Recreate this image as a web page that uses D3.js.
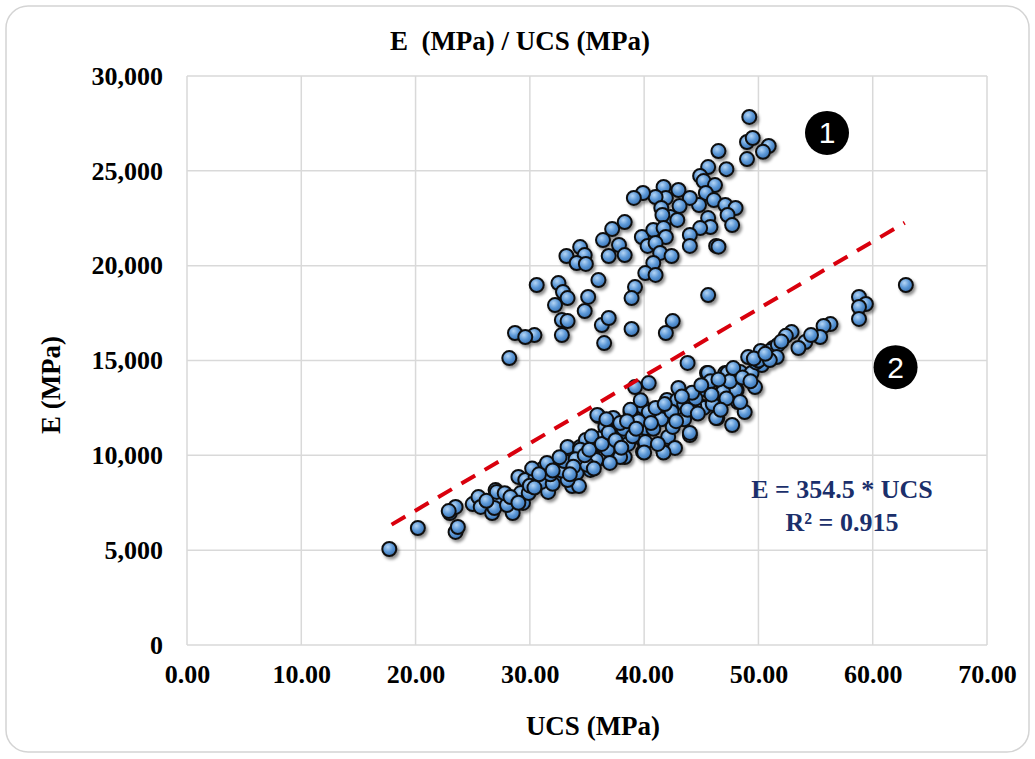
<!DOCTYPE html>
<html>
<head>
<meta charset="utf-8">
<script src="https://cdn.jsdelivr.net/npm/d3@7"></script>
<style>
  body { margin: 0; background: #fff; }
  svg { display: block; }
  text { font-family: "Liberation Serif", "Times New Roman", serif; font-weight: bold; }
</style>
</head>
<body>
<svg width="1035" height="759"></svg>
<script>
// upper cluster (1)
var group1 = [[49.2,27840],[49.0,26520],[49.5,26730],[50.9,26310],[50.4,26000],[49.0,25620],[46.5,26040],[45.6,25200],[47.2,25090],[44.9,24730],[45.2,24460],[46.2,24250],[45.4,23830],[46.1,23460],[47.1,23200],[48.0,23040],[44.8,23200],[44.0,23570],[43.0,23990],[43.1,23140],[41.7,24150],[41.9,23570],[41.0,23620],[39.9,23830],[39.1,23570],[41.5,23040],[42.3,22560],[42.9,22410],[41.6,22670],[47.3,22670],[47.7,22140],[45.6,22510],[45.8,22040],[44.9,21980],[44.0,21620],[44.0,21040],[46.3,21040],[46.5,21000],[38.3,22300],[37.2,21930],[36.4,21350],[37.8,21090],[38.3,20560],[36.9,20510],[39.8,21510],[40.8,21880],[41.7,21980],[41.9,21510],[40.3,21040],[41.0,21190],[41.4,20670],[42.4,20510],[40.8,20140],[40.1,19610],[41.0,19510],[34.4,20980],[33.2,20510],[34.8,20560],[34.1,20140],[34.9,20090],[36.0,19240],[32.5,19080],[30.6,18980],[32.9,18610],[33.3,18290],[32.2,17920],[35.1,18350],[34.8,17610],[39.2,18870],[38.9,18290],[32.8,17130],[33.3,17080],[32.8,16340],[30.4,16340],[36.3,16870],[36.9,17240],[36.5,15920],[38.9,16660],[42.5,17080],[41.9,16450],[45.6,18450],[43.8,14870],[28.7,16450],[29.6,16240],[28.2,15130]];

// lower cluster (2)
var group2 = [[17.7,5060],[20.2,6170],[23.0,6960],[23.5,7280],[23.5,5960],[23.7,6220],[22.9,7060],[25.0,7430],[25.5,7800],[25.7,7280],[26.7,6960],[27.0,8170],[27.3,7640],[26.9,7220],[27.1,8070],[28.5,6960],[28.0,7380],[29.0,8860],[29.6,8700],[29.2,8010],[29.4,7490],[29.9,8010],[30.5,8860],[31.2,9330],[31.6,8070],[32.4,9490],[32.3,8910],[33.3,10440],[34.4,10440],[34.6,9700],[34.1,9070],[33.7,8380],[34.3,8380],[33.3,8700],[35.3,9230],[35.9,10540],[36.0,12070],[36.4,9860],[37.3,11970],[37.2,11070],[37.7,10440],[38.3,9910],[38.2,11230],[39.0,11600],[39.4,12130],[39.2,13600],[40.4,13810],[39.9,12550],[39.9,10810],[39.9,10180],[40.5,12230],[40.1,11440],[41.6,11970],[41.7,10180],[42.1,10970],[42.0,12920],[43.0,12230],[42.9,12920],[42.7,10390],[43.0,13550],[44.0,12920],[44.0,11070],[44.9,13440],[45.2,12550],[45.5,14340],[46.4,11970],[46.9,13440],[47.1,14340],[47.7,11600],[48.1,13440],[48.2,12810],[48.2,14390],[48.8,12280],[49.1,15180],[45.6,14340],[47.3,14340],[48.4,14390],[49.4,14340],[50.3,14760],[50.8,15290],[51.3,15660],[49.8,14900],[48.0,13440],[46.9,13340],[45.2,12500],[48.4,12810],[49.7,13600],[46.3,11970],[44.4,12550],[41.5,11900],[40.4,12280],[38.8,12280],[35.9,12130],[38.2,11400],[40.1,10700],[44.0,11180],[41.7,10150],[40.0,10150],[35.6,10540],[35.8,9750],[37.9,9910],[34.9,10810],[34.4,10300],[31.0,8600],[32.0,8500],[32.8,9200],[33.0,9700],[35.0,9500],[36.8,10300],[36.2,10900],[38.6,10600],[39.0,11000],[39.5,11800],[41.0,12500],[42.5,11500],[43.5,12700],[43.5,11900],[44.5,13000],[46.0,12700],[45.8,13900],[47.5,13900],[30.2,9300],[31.8,9000],[36.6,11500],[34.0,9800],[35.4,11000],[37.9,11700],[38.8,12400],[40.8,11400],[42.4,12300],[44.2,13300],[46.5,14000],[47.2,13000],[26.2,7600],[27.8,8000],[28.3,7800],[30.0,8400],[30.8,9000],[31.5,9600],[32.6,9900],[33.8,9400],[34.8,10000],[35.2,10300],[36.3,10600],[36.9,11200],[37.5,10800],[38.0,10400],[38.5,11800],[39.3,11400],[39.7,12900],[40.6,11700],[41.2,10600],[41.8,12700],[42.8,11800],[43.3,13100],[43.8,12400],[44.7,12200],[45.0,13700],[45.9,13200],[46.7,12400],[47.8,14600],[48.6,14100],[49.3,13900],[50.0,15000],[51.0,15500],[36.7,11900],[37.0,9600],[35.6,9300],[33.5,9000],[32.0,9200],[30.4,8300],[29.0,7500],[62.9,18980],[58.8,18350],[59.4,17980],[58.8,17820],[58.8,17190],[56.3,16920],[55.7,16820],[55.4,16240],[54.1,15970],[53.5,15660],[54.6,16340],[52.9,16500],[51.7,15820],[51.6,15180],[51.0,15020],[52.4,16300],[50.2,15500],[49.6,15100],[50.6,15350],[52.0,16000]];

var xTicks = [0, 10, 20, 30, 40, 50, 60, 70];
var yTicks = [0, 5000, 10000, 15000, 20000, 25000, 30000];
var slope = 354.5;
var fitRange = [17.9, 62.8];
var equationLines = ["E = 354.5 * UCS", "R\u00b2 = 0.915"];
var badges = [{label: "1", ucs: 56.0, e: 27000}, {label: "2", ucs: 62.0, e: 14650}];

var svg = d3.select("svg");
var x = d3.scaleLinear().domain([0, 70]).range([187, 987]);
var y = d3.scaleLinear().domain([0, 30000]).range([645, 76]);

// frame
svg.append("rect").attr("x", 6).attr("y", 6).attr("width", 1023).attr("height", 746)
  .attr("rx", 22).style("fill", "#fff").style("stroke", "#d4d4d4").style("stroke-width", 1.5);

var defs = svg.append("defs");
var grad = defs.append("radialGradient").attr("id", "ball")
  .attr("cx", "40%").attr("cy", "35%").attr("r", "65%");
grad.append("stop").attr("offset", "0%").attr("stop-color", "#b4d5f5");
grad.append("stop").attr("offset", "55%").attr("stop-color", "#5b97d6");
grad.append("stop").attr("offset", "100%").attr("stop-color", "#3a73b3");
var shadow = defs.append("filter").attr("id", "shadow")
  .attr("x", "-50%").attr("y", "-50%").attr("width", "200%").attr("height", "200%");
shadow.append("feDropShadow").attr("dx", 2).attr("dy", 2.5).attr("stdDeviation", 1.8)
  .attr("flood-color", "#000").attr("flood-opacity", 0.45);

// gridlines
svg.append("g").selectAll("line").data(xTicks).enter().append("line")
  .attr("x1", d => x(d)).attr("x2", d => x(d)).attr("y1", y(30000)).attr("y2", y(0))
  .style("stroke", "#d9d9d9").style("stroke-width", 1.5);
svg.append("g").selectAll("line").data(yTicks).enter().append("line")
  .attr("x1", x(0)).attr("x2", x(70)).attr("y1", d => y(d)).attr("y2", d => y(d))
  .style("stroke", "#d9d9d9").style("stroke-width", 1.5);

// axes (labels only)
var xAxis = d3.axisBottom(x).tickValues(xTicks).tickFormat(d3.format(".2f")).tickSize(0).tickPadding(20);
var gx = svg.append("g").attr("transform", "translate(0," + y(0) + ")").call(xAxis);
gx.select(".domain").remove();
gx.selectAll("text").style("font-size", "26px").style("font-family", "Liberation Serif").style("font-weight", "bold").style("fill", "#000");

var yAxis = d3.axisLeft(y).tickValues(yTicks).tickFormat(d3.format(",")).tickSize(0).tickPadding(24);
var gy = svg.append("g").attr("transform", "translate(" + x(0) + ",0)").call(yAxis);
gy.select(".domain").remove();
gy.selectAll("text").style("font-size", "26px").style("font-family", "Liberation Serif").style("font-weight", "bold").style("fill", "#000");

// points
var pts = group1.concat(group2);
svg.append("g").attr("filter", "url(#shadow)").selectAll("circle").data(pts).enter().append("circle")
  .attr("cx", d => x(d[0])).attr("cy", d => y(d[1])).attr("r", 7)
  .style("fill", "url(#ball)").style("stroke", "#111").style("stroke-width", 2);

// fit line
svg.append("line")
  .attr("x1", x(fitRange[0])).attr("y1", y(slope * fitRange[0]))
  .attr("x2", x(fitRange[1])).attr("y2", y(slope * fitRange[1]))
  .style("stroke", "#d9000d").style("stroke-width", 4).style("stroke-dasharray", "16,11");

// equation
svg.append("g").selectAll("text").data(equationLines).enter().append("text")
  .attr("x", 842).attr("y", (d, i) => 498 + i * 33).attr("text-anchor", "middle")
  .style("font-size", "26px").style("fill", "#1b2f6b").text(d => d);

// badges
var b = svg.append("g").selectAll("g").data(badges).enter().append("g")
  .attr("transform", d => "translate(" + x(d.ucs) + "," + y(d.e) + ")");
b.append("circle").attr("r", 22).style("fill", "#000");
b.append("text").attr("text-anchor", "middle").attr("dy", "0.35em")
  .style("font-family", "Liberation Sans, Arial, sans-serif").style("font-weight", "normal")
  .style("font-size", "30px").style("fill", "#fff").text(d => d.label);

// titles
svg.append("text").attr("x", 520).attr("y", 50).attr("text-anchor", "middle")
  .style("font-size", "27px").style("white-space", "pre").text("E  (MPa) / UCS (MPa)");
svg.append("text").attr("x", 593).attr("y", 735).attr("text-anchor", "middle")
  .style("font-size", "27px").text("UCS (MPa)");
svg.append("text").attr("transform", "translate(60,385) rotate(-90)").attr("text-anchor", "middle")
  .style("font-size", "27px").text("E (MPa)");
</script>
</body>
</html>
